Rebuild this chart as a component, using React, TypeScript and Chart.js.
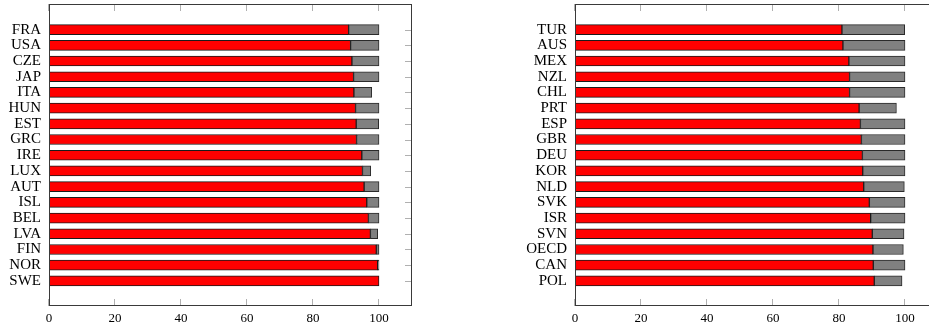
import React, { useEffect, useRef } from "react";
import { Chart, registerables } from "chart.js";

Chart.register(...registerables);

const leftCountries = ["FRA", "USA", "CZE", "JAP", "ITA", "HUN", "EST", "GRC", "IRE", "LUX", "AUT", "ISL", "BEL", "LVA", "FIN", "NOR", "SWE"];
const leftRed = [90.8, 91.4, 91.8, 92.3, 92.4, 92.9, 93.1, 93.2, 94.8, 95.0, 95.5, 96.3, 96.8, 97.4, 99.2, 99.6, 100];
const leftGray = [9.2, 8.6, 8.2, 7.7, 5.4, 7.1, 6.8, 6.8, 5.2, 2.5, 4.5, 3.7, 3.2, 2.2, 0.8, 0.4, 0];

const rightCountries = ["TUR", "AUS", "MEX", "NZL", "CHL", "PRT", "ESP", "GBR", "DEU", "KOR", "NLD", "SVK", "ISR", "SVN", "OECD", "CAN", "POL"];
const rightRed = [80.9, 81.2, 83.0, 83.2, 83.2, 86.1, 86.5, 86.8, 87.1, 87.2, 87.5, 89.2, 89.6, 90.1, 90.3, 90.4, 90.7];
const rightGray = [19.0, 18.8, 17.0, 16.8, 16.8, 11.3, 13.5, 13.2, 12.9, 12.8, 12.3, 10.8, 10.4, 9.6, 9.2, 9.6, 8.4];

const xTickValues = [0, 20, 40, 60, 80, 100];

const FONT = "'Liberation Serif', 'DejaVu Serif', serif";

const frameFor = (tickColor: string, borderColor: string) => ({
  id: "pgfFrame",
  beforeDatasetsDraw(chart: any) {
    const { ctx, chartArea: a, scales } = chart;
    const len = 7;
    ctx.save();
    ctx.strokeStyle = tickColor;
    ctx.lineWidth = 1;
    ctx.beginPath();
    xTickValues.forEach((v) => {
      const px = Math.round(scales.x.getPixelForValue(v)) - 0.5;
      ctx.moveTo(px, a.top);
      ctx.lineTo(px, a.top + len);
      ctx.moveTo(px, a.bottom);
      ctx.lineTo(px, a.bottom - len);
    });
    scales.y.ticks.forEach((t: any) => {
      const py = Math.round(scales.y.getPixelForValue(t.value)) + 0.5;
      ctx.moveTo(a.right, py);
      ctx.lineTo(a.right - len, py);
      ctx.moveTo(a.left, py);
      ctx.lineTo(a.left + len, py);
    });
    ctx.stroke();
    ctx.restore();
  },
  afterDatasetsDraw(chart: any) {
    const { ctx, chartArea: a } = chart;
    ctx.save();
    ctx.strokeStyle = borderColor;
    ctx.lineWidth = 1;
    ctx.strokeRect(a.left + 0.5, a.top + 0.5, a.right - a.left - 1, a.bottom - a.top - 1);
    ctx.restore();
  },
});

function makeChart(
  canvas: HTMLCanvasElement,
  labels: string[],
  red: number[],
  gray: number[],
  yWidth: number,
  padRight: number
) {
  return new Chart(canvas, {
    type: "bar",
    data: {
      datasets: [
        {
          label: "a",
          data: red.map((v, i) => ({ x: v, y: i })),
          backgroundColor: "#ff0000",
          borderColor: "#1a1a1a",
          borderWidth: 1,
          borderSkipped: false,
          barThickness: 10,
        },
        {
          label: "b",
          data: gray.map((v, i) => ({ x: v, y: i })),
          backgroundColor: "#808080",
          borderColor: "#2a2a2a",
          borderWidth: 1,
          borderSkipped: false,
          barThickness: 10,
        },
      ],
    } as any,
    options: {
      indexAxis: "y",
      animation: false,
      responsive: false,
      maintainAspectRatio: false,
      layout: { padding: { left: 0, right: padRight, top: 4, bottom: 0 } },
      plugins: { legend: { display: false }, tooltip: { enabled: false } },
      scales: {
        x: {
          type: "linear",
          stacked: true,
          offset: false,
          min: 0,
          max: 110,
          grid: { display: false, drawTicks: false, offset: false },
          border: { display: false },
          afterBuildTicks: (s: any) => {
            s.ticks = xTickValues.map((v) => ({ value: v }));
          },
          afterFit: (s: any) => {
            s.height = 26;
            s.paddingLeft = 0;
            s.paddingRight = 0;
          },
          ticks: {
            color: "#000",
            padding: 5,
            maxRotation: 0,
            font: { family: FONT, size: 13 },
            callback: (v: any) => String(v),
          },
        },
        y: {
          type: "linear",
          stacked: true,
          reverse: true,
          offset: false,
          min: -1.63,
          max: 17.6,
          grid: { display: false, drawTicks: false, offset: false },
          border: { display: false },
          afterBuildTicks: (s: any) => {
            s.ticks = labels.map((_, i) => ({ value: i }));
          },
          afterFit: (s: any) => {
            s.width = yWidth;
            s.paddingTop = 0;
            s.paddingBottom = 0;
          },
          ticks: {
            color: "#000",
            padding: 8,
            autoSkip: false,
            font: { family: FONT, size: 15 },
            callback: (v: any) => labels[v] ?? "",
          },
        },
      },
    } as any,
    plugins: [frameFor("#b0b0b0", "#3a3a3a")],
  });
}

export default function App() {
  const leftRef = useRef<HTMLCanvasElement>(null);
  const rightRef = useRef<HTMLCanvasElement>(null);

  useEffect(() => {
    const c1 = makeChart(leftRef.current!, leftCountries, leftRed, leftGray, 49, 8);
    const c2 = makeChart(rightRef.current!, rightCountries, rightRed, rightGray, 75, 12);
    return () => {
      c1.destroy();
      c2.destroy();
    };
  }, []);

  return (
    <div
      style={{
        position: "absolute",
        left: 0,
        top: 0,
        width: 929,
        height: 332,
        overflow: "hidden",
        background: "#fff",
      }}
    >
      <canvas ref={leftRef} width={420} height={332} style={{ position: "absolute", left: 0, top: 0 }} />
      <canvas ref={rightRef} width={450} height={332} style={{ position: "absolute", left: 500, top: 0 }} />
    </div>
  );
}
